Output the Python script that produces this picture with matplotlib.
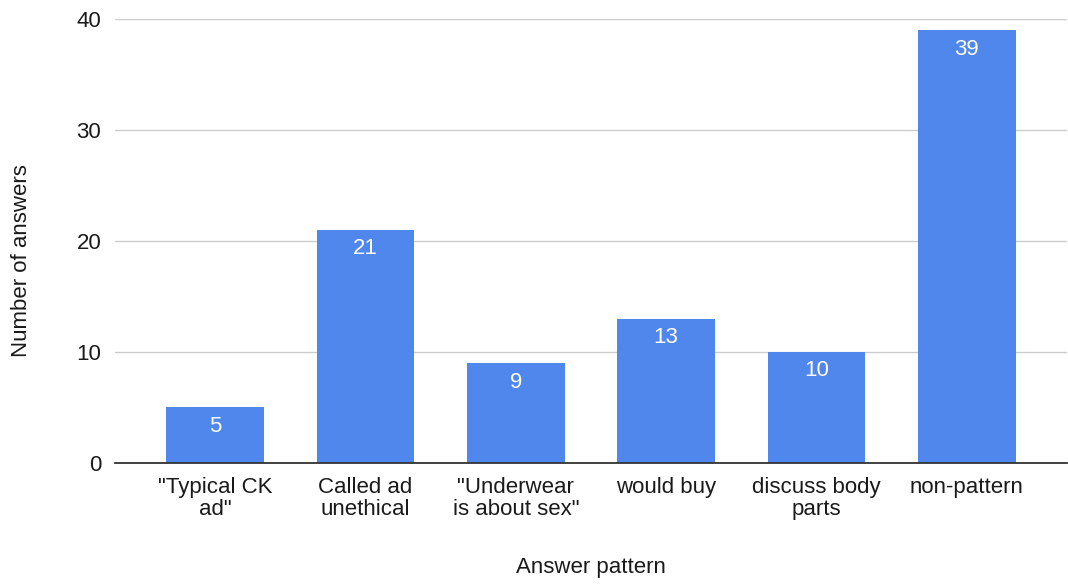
import matplotlib
matplotlib.use('Agg')
import matplotlib.pyplot as plt

categories = ['"Typical CK\nad"', 'Called ad\nunethical', '"Underwear\nis about sex"',
              'would buy', 'discuss body\nparts', 'non-pattern']
answers = [5, 21, 9, 13, 10, 39]
y_ticks = [0, 10, 20, 30, 40]

plt.rcParams['font.family'] = ['Liberation Sans', 'DejaVu Sans']
fs = 16

fig = plt.figure(figsize=(10.68, 5.84), dpi=100)
ax = fig.add_axes([0.1077, 0.2072, 0.8913, 0.7603])

x = range(len(categories))
bars = ax.bar(x, answers, width=0.65, color='#4f87ec', zorder=3)

for b, v in zip(bars, answers):
    ax.annotate(str(v), (b.get_x() + b.get_width() / 2, v), xytext=(0, -19),
                textcoords='offset pixels',
                ha='center', va='center', color='white', fontsize=fs, zorder=4)

ax.set_xlim(-0.667, 5.667)
ax.set_ylim(0, 40)
ax.set_yticks(y_ticks)
ax.set_xticks(list(x))
ax.set_xticklabels(categories, fontsize=fs, linespacing=1.05, va='top')
ax.tick_params(axis='both', length=0, labelsize=fs, colors='#1a1a1a')
ax.tick_params(axis='x', pad=10)
ax.tick_params(axis='y', pad=10)
ax.grid(axis='y', color='#cccccc', linewidth=1, zorder=0)
for s in ['top', 'right', 'left']:
    ax.spines[s].set_visible(False)
ax.spines['bottom'].set_color('#333333')
ax.spines['bottom'].set_linewidth(1.3)
ax.spines['bottom'].set_zorder(5)

ax.set_xlabel('Answer pattern', fontsize=fs, labelpad=27, color='#1a1a1a')
ax.set_ylabel('Number of answers', fontsize=fs, color='#1a1a1a')
ax.yaxis.set_label_coords(-0.087, 0.457)

fig.savefig('out.png', dpi=100)
